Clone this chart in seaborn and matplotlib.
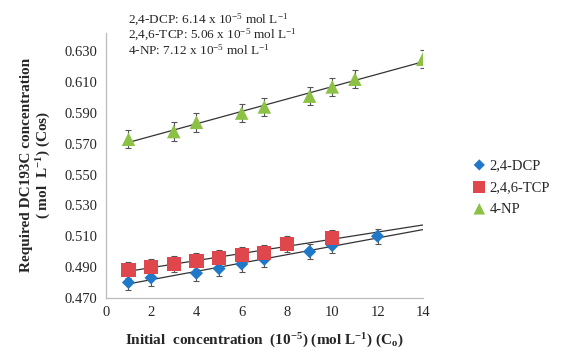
import numpy as np
import pandas as pd
import matplotlib
matplotlib.use("Agg")
import matplotlib.pyplot as plt
import seaborn as sns

# ---- data ----
dcp_x = [1, 2, 4, 5, 6, 7, 9, 10, 12]
dcp_y = [0.480, 0.483, 0.486, 0.489, 0.492, 0.495, 0.500, 0.504, 0.510]
dcp_err = [0.005, 0.005, 0.005, 0.005, 0.005, 0.005, 0.005, 0.005, 0.005]

tcp_x = [1, 2, 3, 4, 5, 6, 7, 8, 10]
tcp_y = [0.488, 0.490, 0.492, 0.494, 0.496, 0.498, 0.499, 0.505, 0.509]
tcp_err = [0.005, 0.005, 0.005, 0.005, 0.005, 0.005, 0.005, 0.005, 0.005]

np_x = [1, 3, 4, 6, 7, 9, 10, 11, 14]
np_y = [0.573, 0.578, 0.584, 0.590, 0.594, 0.601, 0.607, 0.612, 0.625]
np_err = [0.006, 0.006, 0.006, 0.006, 0.006, 0.006, 0.006, 0.006, 0.006]

series = ["2,4-DCP", "2,4,6-TCP", "4-NP"]
colors = {"2,4-DCP": "#1F78C8", "2,4,6-TCP": "#E0474C", "4-NP": "#8CC145"}
markers = {"2,4-DCP": "D", "2,4,6-TCP": "s", "4-NP": "^"}
sizes = {"2,4-DCP": 45, "2,4,6-TCP": 105, "4-NP": 95}

y_ticks = [0.470, 0.490, 0.510, 0.530, 0.550, 0.570, 0.590, 0.610, 0.630]
x_ticks = [0, 2, 4, 6, 8, 10, 12, 14]
annot = ["2,4-DCP: 6.14 x 10$^{-5}$ mol L$^{-1}$",
         "2,4,6-TCP: 5.06 x 10$^{-5}$ mol L$^{-1}$",
         "4-NP: 7.12 x 10$^{-5}$ mol L$^{-1}$"]

data = {
    "2,4-DCP": (dcp_x, dcp_y, dcp_err),
    "2,4,6-TCP": (tcp_x, tcp_y, tcp_err),
    "4-NP": (np_x, np_y, np_err),
}
df = pd.concat([pd.DataFrame({"x": v[0], "y": v[1], "err": v[2], "s": k})
                for k, v in data.items()], ignore_index=True)

sns.set_theme(style="white")
plt.rcParams["font.family"] = ["Liberation Serif", "DejaVu Serif"]
plt.rcParams["mathtext.default"] = "regular"

fig = plt.figure(figsize=(5.63, 3.55), dpi=100)
ax = fig.add_axes([0.188, 0.161, 0.563, 0.746])

# trend lines (least squares) spanning x = 1 .. 14
for k in series:
    x, y, e = data[k]
    m, b = np.polyfit(x, y, 1)
    xs = np.array([1, 14])
    ax.plot(xs, m * xs + b, color="#333333", lw=0.9, zorder=2)

# error bars
for k in series:
    x, y, e = data[k]
    ax.errorbar(x, y, yerr=e, fmt="none", ecolor="#555555", elinewidth=0.8,
                capsize=2.5, capthick=0.8, zorder=3)

for k in series:
    sub = df[df.s == k]
    sns.scatterplot(data=sub, x="x", y="y", color=colors[k], marker=markers[k],
                    s=sizes[k], edgecolor="none", ax=ax, zorder=4, label=k)

ax.set_xlim(0, 14)
ax.set_ylim(0.470, 0.642)
ax.set_xticks(x_ticks)
ax.set_yticks(y_ticks)
ax.set_yticklabels([f"{t:.3f}" for t in y_ticks])
ax.tick_params(axis="both", labelsize=10.5, length=0, pad=6)
for s in ["top", "right"]:
    ax.spines[s].set_visible(False)
for s in ["left", "bottom"]:
    ax.spines[s].set_color("#BBBBBB")
    ax.spines[s].set_linewidth(0.9)

ax.set_xlabel("Initial  concentration  (10$^{-5}$) (mol L$^{-1}$) (C$_o$)",
              fontsize=11, fontweight="bold", labelpad=9)
ax.set_ylabel("Required DC193C concentration\n( mol  L$^{-1}$) (Cos)",
              fontsize=11, fontweight="bold", labelpad=8)

leg = ax.legend(loc="center left", bbox_to_anchor=(0.828, 0.473),
                bbox_transform=fig.transFigure, frameon=False,
                fontsize=10.5, handletextpad=0.2, labelspacing=0.6,
                borderaxespad=0, handlelength=1.0, markerscale=0.85)

for i, t in enumerate(annot):
    fig.text(0.227, 0.945 - i * 0.043, t, fontsize=9.5, va="center", ha="left")

fig.savefig("out.png", dpi=100)
